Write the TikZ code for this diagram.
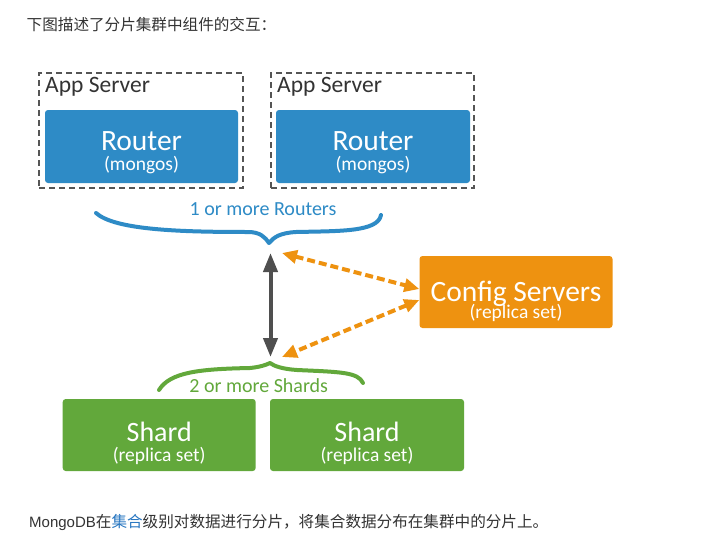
\documentclass[tikz,border=0pt]{standalone}
\usepackage{fontspec}
\setmainfont{Carlito}
\newfontfamily\cjk{Noto Sans CJK SC}
\newfontfamily\helv{Liberation Sans}
\usetikzlibrary{arrows.meta}
\definecolor{mblue}{HTML}{2E8BC6}
\definecolor{mgreen}{HTML}{62A83B}
\definecolor{morange}{HTML}{EE9210}
\definecolor{mgray}{HTML}{4F4F4F}
\definecolor{dashgray}{HTML}{555555}
\definecolor{txtgray}{HTML}{333333}
\definecolor{linkblue}{HTML}{2A78C2}
\begin{document}
\begin{tikzpicture}[x=1pt,y=-1pt,
  appbox/.style={draw=dashgray, line width=1.8pt, dash pattern=on 6pt off 4pt, minimum width=#1, minimum height=115pt, inner sep=0pt},
  fillbox/.style={rounded corners=3pt, inner sep=0pt, minimum height=72pt},
  routerbox/.style={fillbox, fill=mblue, minimum width=#1, minimum height=73pt},
  cfgbox/.style={fillbox, fill=morange, minimum width=193pt},
  shardbox/.style={fillbox, fill=mgreen, minimum width=#1},
  bigtxt/.style={text=white, inner sep=0pt, anchor=base, text depth=0pt, font=\fontsize{29.5}{30}\selectfont},
  smalltxt/.style={text=white, inner sep=0pt, anchor=base, text height=13pt, font=\fontsize{19.5}{20}\selectfont},
  apptxt/.style={text=txtgray, inner sep=0pt, anchor=base west, font=\fontsize{23.5}{24}\selectfont},
  bracetxt/.style={inner sep=0pt, anchor=base, font=\fontsize{20}{21}\selectfont},
  bracepen/.style={line width=4pt, line cap=round, line join=round},
  grayarrow/.style={draw=mgray, line width=4pt, {Triangle[length=19pt,width=14pt]}-{Triangle[length=19pt,width=14pt]}},
  orangearrow/.style={draw=morange, line width=4pt, dash pattern=on 8pt off 4pt, {Triangle[length=15pt,width=13pt]}-{Triangle[length=15pt,width=13pt]}},
  cjktxt/.style={text=txtgray, inner sep=0pt, anchor=west, font=\cjk\fontsize{15.6}{17}\selectfont}
]
\fill[white] (0,0) rectangle (721,546);
\useasboundingbox (0,0) rectangle (721,546);

% top caption
\node[cjktxt] (cap1) at (26.5,25) {下图描述了分片集群中组件的交互：};

% app servers
\node[appbox=204pt] (app1) at (141,130.5) {};
\node[appbox=203pt] (app2) at (372.5,130.5) {};
\node[apptxt] (app1t) at (45,92) {App Server};
\node[apptxt] (app2t) at (277,92) {App Server};

% routers
\node[routerbox=193pt] (r1) at (141.5,146.5) {};
\node[routerbox=194pt] (r2) at (373,146.5) {};
\node[bigtxt] (r1a) at (141.5,150.7) {Router};
\node[smalltxt] (r1b) at (141.5,170) {(mongos)};
\node[bigtxt] (r2a) at (373,150.7) {Router};
\node[smalltxt] (r2b) at (373,170) {(mongos)};

% config servers
\node[cfgbox] (cfg) at (516,292) {};
\node[bigtxt] (cfga) at (516,301) {Config Servers};
\node[smalltxt] (cfgb) at (516,318) {(replica set)};

% shards
\node[shardbox=193pt] (s1) at (159.2,435) {};
\node[shardbox=194pt] (s2) at (367,435) {};
\node[bigtxt, font=\fontsize{28}{29}\selectfont] (s1a) at (159.2,441.7) {Shard};
\node[smalltxt] (s1b) at (159.2,461) {(replica set)};
\node[bigtxt, font=\fontsize{28}{29}\selectfont] (s2a) at (367,441.7) {Shard};
\node[smalltxt] (s2b) at (367,461) {(replica set)};

% braces
\coordinate (rtip) at (269,243);
\coordinate (stip) at (270,363);
\draw[bracepen, draw=mblue] (96,213) .. controls (115,230) and (180,232) .. (248,232)
  .. controls (260,232) and (265,237) .. (rtip)
  .. controls (274,237) and (280,233) .. (296,232)
  .. controls (340,231) and (378,232) .. (381,215);
\node[bracetxt, text=mblue] (rlab) at (263,215) {1 or more Routers};
\draw[bracepen, draw=mgreen] (159,390) .. controls (170,372) and (200,369) .. (250,368)
  .. controls (260,367) and (266,365) .. (stip)
  .. controls (274,366) and (282,369) .. (297,370)
  .. controls (340,372) and (358,372) .. (363,383);
\node[bracetxt, text=mgreen] (slab) at (258.7,392.7) {2 or more Shards};

% arrows
\coordinate (gtop) at (270.5,253);
\coordinate (gbot) at (270.5,357);
\draw[grayarrow] (gtop) -- (gbot);
\coordinate (otop) at (282,253);
\coordinate (obot) at (282,357);
\draw[orangearrow] (otop) -- ([yshift=3pt]cfg.west);
\draw[orangearrow] ([yshift=-8pt]cfg.west) -- (obot);

% bottom caption
\node[cjktxt] (cap2) at (29,522) {{\helv\fontsize{15}{17}\selectfont MongoDB}在\textcolor{linkblue}{集合}级别对数据进行分片，将集合数据分布在集群中的分片上。};
\end{tikzpicture}
\end{document}
